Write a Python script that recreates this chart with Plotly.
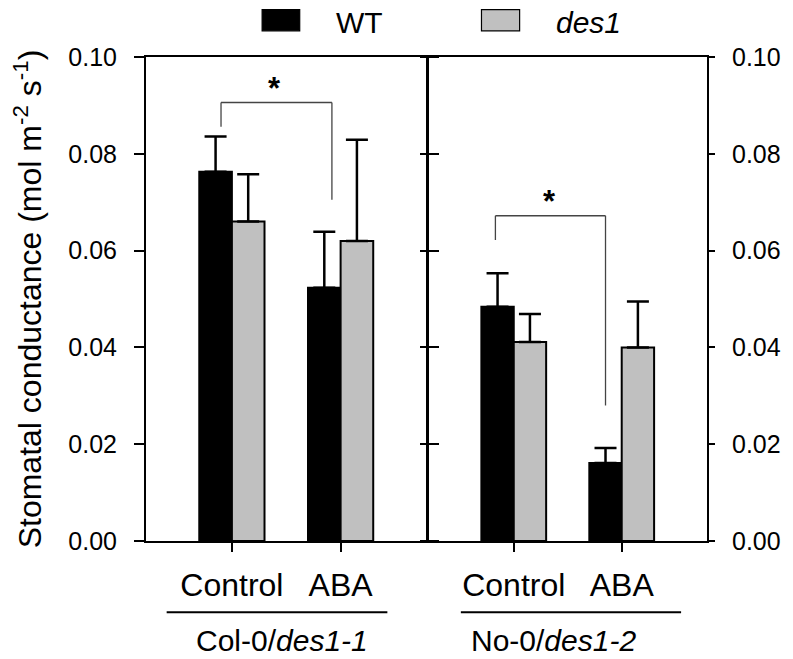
import plotly.graph_objects as go

# ---- data ----
treatments = ["Control", "ABA"]
genotypes = ["Col-0/<i>des1-1</i>", "No-0/<i>des1-2</i>"]
series_names = ["WT", "<i>des1</i>"]
y_title = "Stomatal conductance (mol m<sup>-2</sup> s<sup>-1</sup>)"
# panel 1 (Col-0/des1-1)
wt_col = [0.0763, 0.0523]
wt_col_err = [0.0073, 0.0116]
des1_col = [0.0660, 0.0620]
des1_col_err = [0.0098, 0.0209]
# panel 2 (No-0/des1-2)
wt_no = [0.0484, 0.0161]
wt_no_err = [0.0069, 0.0031]
des1_no = [0.0411, 0.0400]
des1_no_err = [0.0058, 0.0095]
# significance brackets: [top, left-leg end, right-leg end]
sig_col = [0.0906, 0.0856, 0.0705]
sig_no = [0.0672, 0.0622, 0.0280]
ytick_vals = [0.00, 0.02, 0.04, 0.06, 0.08, 0.10]

FONT = "Liberation Sans, Arial, sans-serif"
BLACK = "#000000"
GRAY = "#c0c0c0"
xpos = list(range(len(treatments)))

fig = go.Figure()

def add_bars(vals, errs, color, name, xa, ya):
    fig.add_trace(go.Bar(
        x=xpos, y=vals, name=name, xaxis=xa, yaxis=ya,
        marker=dict(color=color, line=dict(color=BLACK, width=2)),
        error_y=dict(type="data", array=errs, arrayminus=[0] * len(errs),
                     symmetric=False, color=BLACK, thickness=2.5, width=11),
        showlegend=False,
    ))

add_bars(wt_col, wt_col_err, BLACK, series_names[0], "x", "y")
add_bars(des1_col, des1_col_err, GRAY, series_names[1], "x", "y")
add_bars(wt_no, wt_no_err, BLACK, series_names[0], "x2", "y2")
add_bars(des1_no, des1_no_err, GRAY, series_names[1], "x2", "y2")

xcommon = dict(range=[-0.79, 1.79], tickvals=xpos, ticktext=treatments,
               ticks="outside", ticklen=9, tickwidth=2, tickcolor=BLACK,
               showline=True, linecolor=BLACK, linewidth=2, mirror=True,
               showgrid=False, zeroline=False, ticklabelstandoff=6,
               tickfont=dict(family=FONT, size=32, color=BLACK))
ycommon = dict(range=[0, 0.1], tickvals=ytick_vals, tickformat=".2f",
               ticks="outside", tickwidth=1.5, tickcolor=BLACK,
               showline=True, linecolor=BLACK, linewidth=2, mirror="ticks",
               showgrid=False, zeroline=False,
               tickfont=dict(family=FONT, size=25, color=BLACK))

# page body has an 8px margin: the figure is sized/placed to compensate
fig.update_layout(
    width=785, height=651,
    margin=dict(l=130, r=75, t=49, b=118),
    paper_bgcolor="white", plot_bgcolor="white",
    barmode="group", bargap=0.4, bargroupgap=0,
    showlegend=False,
    xaxis=dict(domain=[0, 0.5], anchor="y", **xcommon),
    xaxis2=dict(domain=[0.5035, 1], anchor="y2", **xcommon),
    yaxis=dict(anchor="x", side="left", ticklen=10, ticklabelstandoff=12,
               title=dict(text=y_title, standoff=26,
                          font=dict(family=FONT, size=32, color=BLACK)),
               **ycommon),
    yaxis2=dict(anchor="x2", side="right", matches="y", ticklen=6,
                ticklabelstandoff=12, **ycommon),
)

shapes = []
annotations = []

# significance brackets
def bracket(sig, xa, ya, xl, xr, xstar):
    top, lend, rend = sig
    ln = dict(color="#444444", width=1.3)
    shapes.append(dict(type="line", xref=xa, yref=ya, x0=xl, x1=xr, y0=top, y1=top, line=ln))
    shapes.append(dict(type="line", xref=xa, yref=ya, x0=xl, x1=xl, y0=top, y1=lend, line=ln))
    shapes.append(dict(type="line", xref=xa, yref=ya, x0=xr, x1=xr, y0=top, y1=rend, line=ln))
    annotations.append(dict(text="<b>*</b>", xref=xa, yref=ya, x=xstar, y=top,
                            yanchor="bottom", yshift=-5, showarrow=False,
                            font=dict(family=FONT, size=31, color=BLACK)))

bracket(sig_col, "x", "y", xpos[0] - 0.10, xpos[1] - 0.08, 0.39)
bracket(sig_no, "x2", "y2", xpos[0] - 0.17, xpos[1] - 0.15, 0.33)

# genotype group lines and labels
for xa, (x0, x1), gl, xc in [("x", (-0.60, 1.43), genotypes[0], 0.46),
                              ("x2", (-0.49, 1.55), genotypes[1], 0.37)]:
    shapes.append(dict(type="line", xref=xa, yref="paper", x0=x0, x1=x1,
                       y0=-0.147, y1=-0.147, line=dict(color=BLACK, width=2)))
    annotations.append(dict(text=gl, xref=xa, yref="paper", x=xc, y=-0.243,
                            showarrow=False, xanchor="center", yanchor="bottom",
                            font=dict(family=FONT, size=30, color=BLACK)))

# custom legend
for (bx0, bx1), tx, nm, col in [((0.207, 0.274), 0.336, series_names[0], BLACK),
                                ((0.598, 0.666), 0.728, series_names[1], GRAY)]:
    shapes.append(dict(type="rect", xref="paper", yref="paper", x0=bx0, x1=bx1,
                       y0=1.054, y1=1.098, fillcolor=col,
                       line=dict(color=BLACK, width=1.2)))
    annotations.append(dict(text=nm, xref="paper", yref="paper", x=tx, y=1.072,
                            xanchor="left", yanchor="middle", showarrow=False,
                            font=dict(family=FONT, size=30, color=BLACK)))

fig.update_layout(shapes=shapes, annotations=annotations)
fig.write_html("out.html")
